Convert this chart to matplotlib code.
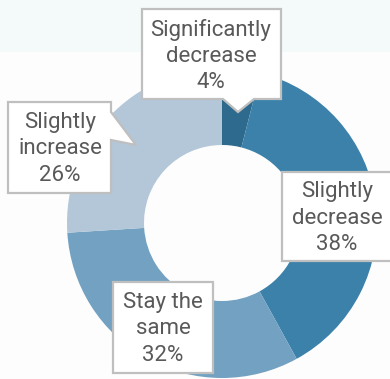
import matplotlib
matplotlib.use("Agg")
import matplotlib.pyplot as plt
from matplotlib.patches import Polygon, Rectangle

W, H = 390, 379

# answer shares, clockwise from 12 o'clock
categories = ["Significantly\ndecrease", "Slightly\ndecrease", "Stay the\nsame", "Slightly\nincrease"]
shares = [4, 38, 32, 26]
colors = ["#2d6a8d", "#3b81aa", "#73a1c2", "#b3c7d8"]

plt.rcParams["font.family"] = ["Roboto", "DejaVu Sans"]

fig = plt.figure(figsize=(W / 100, H / 100), dpi=100)
fig.patch.set_facecolor("#fdfdfd")
ax = fig.add_axes([0, 0, 1, 1])
ax.set_facecolor("#fdfdfd")


def py(y):
    # pixel row (from top) to data y
    return H - y


# pale band behind the top of the chart
ax.add_patch(Rectangle((0, py(52)), W, 52, facecolor="#f4fafa", edgecolor="none", zorder=0))

cx, cy, r_out, r_in = 222, py(223), 155, 78
ax.pie(shares, colors=colors, startangle=90, counterclock=False,
       center=(cx, cy), radius=r_out,
       wedgeprops=dict(width=r_out - r_in, edgecolor="none"), frame=True)


def callout(pts, text, tx, ty):
    poly = Polygon([(x, py(y)) for x, y in pts], closed=True, facecolor="white",
                   edgecolor="#bfbfbf", linewidth=1.6, zorder=5)
    ax.add_patch(poly)
    ax.text(tx, py(ty), text, ha="center", va="center", fontsize=16,
            color="#595959", linespacing=1.33, zorder=6)


labels = [f"{c}\n{s}%" for c, s in zip(categories, shares)]

callout([(142, 9), (281, 9), (281, 99), (254, 99), (238, 112), (223, 99), (142, 99)],
        labels[0], 211, 56)
callout([(282, 172), (393, 172), (393, 261), (282, 261)], labels[1], 337, 218)
callout([(113, 282), (213, 282), (213, 373), (113, 373)], labels[2], 163, 329)
callout([(8, 102), (111, 102), (111, 112), (136, 145), (111, 140), (111, 193), (8, 193)],
        labels[3], 60, 149)

ax.set_xlim(0, W)
ax.set_ylim(0, H)
ax.set_aspect("auto")
ax.axis("off")

fig.savefig("out.png", dpi=100, facecolor=fig.get_facecolor())
